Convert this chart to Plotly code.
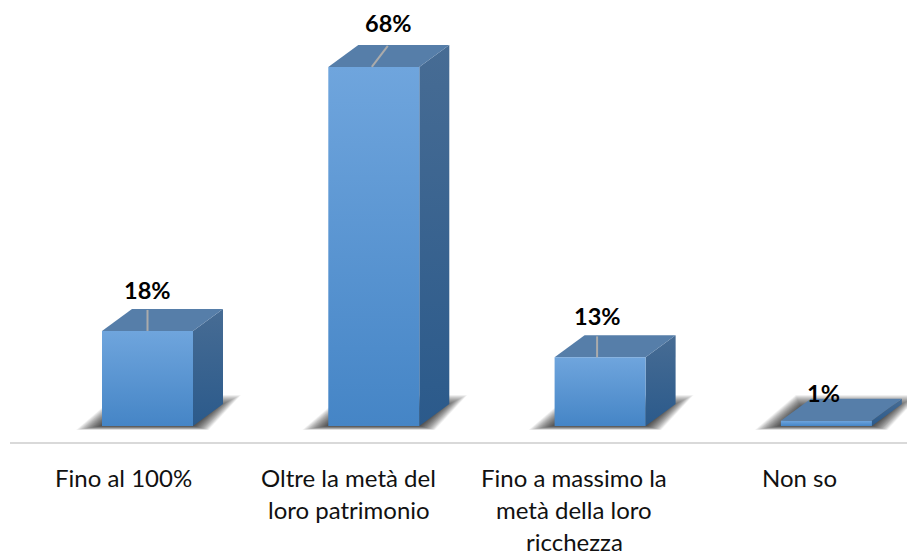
import plotly.graph_objects as go

# data
categories = [
    ["Fino al 100%"],
    ["Oltre la metà del", "loro patrimonio"],
    ["Fino a massimo la", "metà della loro", "ricchezza"],
    ["Non so"],
]
values = [18, 68, 13, 1]
value_labels = ["18%", "68%", "13%", "1%"]

# layout of the drawing, in screen pixels
WIDTH, HEIGHT = 907, 555
PLOT_LEFT, PLOT_BOTTOM = 10, 442
FIRST_TICK_PX, TICK_STEP_PX = 124.5, 226.3
BASE_PX = 426
PX_PER_UNIT = 5.28
BAR_SHIFT = 23
BAR_W = 91
DEPTH_X, DEPTH_Y = 30, 22

FONT = "Lato, Carlito, Calibri, sans-serif"

# label placement per bar (pixels): x offset and height above the front top edge
label_dx = [0, 15, -3, -3]
label_dy = [41, 44, 41, 28]
leader_start = [0, -2, -3, 0]
leader_end = [0, 14, -3, 0]
category_dx = [-1, -2, -3, -4]


def px_x(p):
    return p / TICK_STEP_PX


def px_y(p):
    return p / PX_PER_UNIT


def polygon(fig, xs, ys, **style):
    fig.add_trace(go.Scatter(
        x=xs + xs[:1],
        y=ys + ys[:1],
        mode="lines",
        line=dict(width=0),
        fill="toself",
        hoverinfo="skip",
        showlegend=False,
        **style,
    ))


fig = go.Figure()

for i, v in enumerate(values):
    cx = i + px_x(BAR_SHIFT)
    left = cx - px_x(BAR_W / 2)
    right = cx + px_x(BAR_W / 2)
    dx, dy = px_x(DEPTH_X), px_y(DEPTH_Y)

    # soft shadow on the floor, stacked translucent layers
    for blur in range(26, -1, -1):
        polygon(
            fig,
            [left - px_x(blur), right + px_x(blur * 0.6), right + px_x(22 + blur), left + px_x(20 - blur * 0.2)],
            [-px_y(blur * 0.15), -px_y(blur * 0.15), px_y(18 + blur * 0.5), px_y(18 + blur * 0.5)],
            fillcolor="rgba(0,0,0,0.04)",
        )

    # right side face
    polygon(
        fig,
        [right, right + dx, right + dx, right],
        [0, dy, v + dy, v],
        fillgradient=dict(type="vertical", colorscale=[[0, "#2b5a8b"], [1, "#476c94"]]),
    )
    # top face
    polygon(
        fig,
        [left, right, right + dx, left + dx],
        [v, v, v + dy, v + dy],
        fillcolor="#567ea9",
    )
    # front face
    polygon(
        fig,
        [left, right, right, left],
        [0, 0, v, v],
        fillgradient=dict(type="vertical", colorscale=[[0, "#4585c6"], [1, "#6fa5dd"]]),
    )
    # leader line from the bar to its label
    if v > 1:
        fig.add_trace(go.Scatter(
            x=[cx + px_x(leader_start[i]), cx + px_x(leader_end[i])],
            y=[v, v + dy - px_y(1)],
            mode="lines",
            line=dict(color="#ababab", width=2),
            hoverinfo="skip",
            showlegend=False,
        ))
    fig.add_annotation(
        x=cx, y=v, text="<b>%s</b>" % value_labels[i], showarrow=False,
        xshift=label_dx[i], yshift=label_dy[i], yanchor="middle",
        font=dict(family=FONT, size=23.5, color="#000000"),
    )

# category labels, one annotation per line because of the wide line spacing
for i, lines in enumerate(categories):
    for j, line in enumerate(lines):
        fig.add_annotation(
            x=i, y=0, yref="paper", text=line, showarrow=False,
            xshift=category_dx[i], yanchor="middle", yshift=-(35 + j * 32),
            font=dict(family=FONT, size=24, color="#111111"),
        )

fig.update_layout(
    width=WIDTH,
    height=HEIGHT,
    margin=dict(l=PLOT_LEFT, r=0, t=0, b=HEIGHT - PLOT_BOTTOM),
    paper_bgcolor="white",
    plot_bgcolor="white",
    showlegend=False,
    xaxis=dict(
        range=[(PLOT_LEFT - FIRST_TICK_PX) / TICK_STEP_PX, (WIDTH - FIRST_TICK_PX) / TICK_STEP_PX],
        showgrid=False,
        zeroline=False,
        showticklabels=False,
        ticks="",
        showline=True,
        linecolor="#d9d9d9",
        linewidth=2,
    ),
    yaxis=dict(
        range=[(BASE_PX - PLOT_BOTTOM) / PX_PER_UNIT, BASE_PX / PX_PER_UNIT],
        visible=False,
    ),
)

# the default page margin would push the figure 8px in and clip it
fig.write_html(
    "out.html",
    config={"displayModeBar": False},
    post_script="document.body.style.margin = '0';",
)
